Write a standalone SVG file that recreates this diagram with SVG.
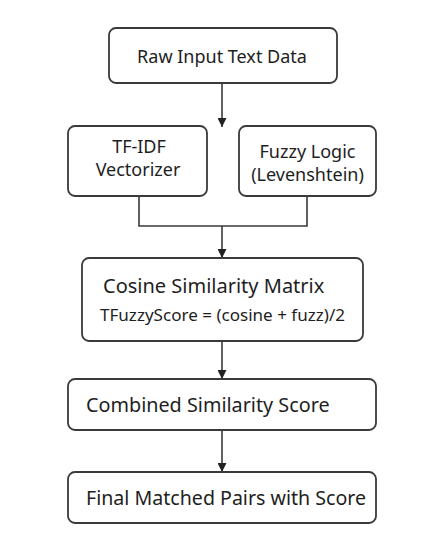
<svg xmlns="http://www.w3.org/2000/svg" width="445" height="541" viewBox="0 0 445 541">
<style>
.box{fill:#fff;stroke:#3a3a3a;stroke-width:1.8}
.t{font-family:"Noto Sans","Open Sans","DejaVu Sans",sans-serif;font-size:18px;fill:#1e1e1e}
.m{text-anchor:middle}
.c{fill:none;stroke:#3a3a3a;stroke-width:1.6}
</style>
<defs>
<marker id="ah" viewBox="0 0 10 10" refX="10" refY="5" markerWidth="9" markerHeight="9" markerUnits="userSpaceOnUse" orient="auto">
<path d="M0,0 L10,5 L0,10 z" fill="#222"/>
</marker>
</defs>
<rect width="445" height="541" fill="#fff"/>
<g id="connectors">
<path class="c" d="M222,83 V127" marker-end="url(#ah)"/>
<path class="c" d="M139,196 V226 H307 V196"/>
<path class="c" d="M222,226 V258" marker-end="url(#ah)"/>
<path class="c" d="M222,341 V379" marker-end="url(#ah)"/>
<path class="c" d="M222,430 V472" marker-end="url(#ah)"/>
</g>
<g id="raw">
<rect class="box" x="109" y="28" width="228" height="55" rx="7"/>
<text class="t m" x="222" y="63">Raw Input Text Data</text>
</g>
<g id="tfidf">
<rect class="box" x="68" y="126" width="139" height="70" rx="7"/>
<text class="t m" x="139" y="153">TF-IDF</text>
<text class="t m" x="138" y="176">Vectorizer</text>
</g>
<g id="fuzzy">
<rect class="box" x="239" y="126" width="137" height="70" rx="7"/>
<text class="t m" x="307.5" y="158">Fuzzy Logic</text>
<text class="t m" x="307.5" y="181">(Levenshtein)</text>
</g>
<g id="cosine">
<rect class="box" x="82" y="258" width="281" height="83" rx="7"/>
<text class="t" x="103" y="293" style="font-size:20px">Cosine Similarity Matrix</text>
<text class="t" x="100" y="321" style="font-size:17px" textLength="245" lengthAdjust="spacingAndGlyphs">TFuzzyScore = (cosine + fuzz)/2</text>
</g>
<g id="combined">
<rect class="box" x="68" y="379" width="308" height="51" rx="7"/>
<text class="t" x="86" y="412" style="font-size:19.8px">Combined Similarity Score</text>
</g>
<g id="final">
<rect class="box" x="68" y="472" width="308" height="51" rx="7"/>
<text class="t" x="86" y="505" style="font-size:19.6px">Final Matched Pairs with Score</text>
</g>
</svg>
